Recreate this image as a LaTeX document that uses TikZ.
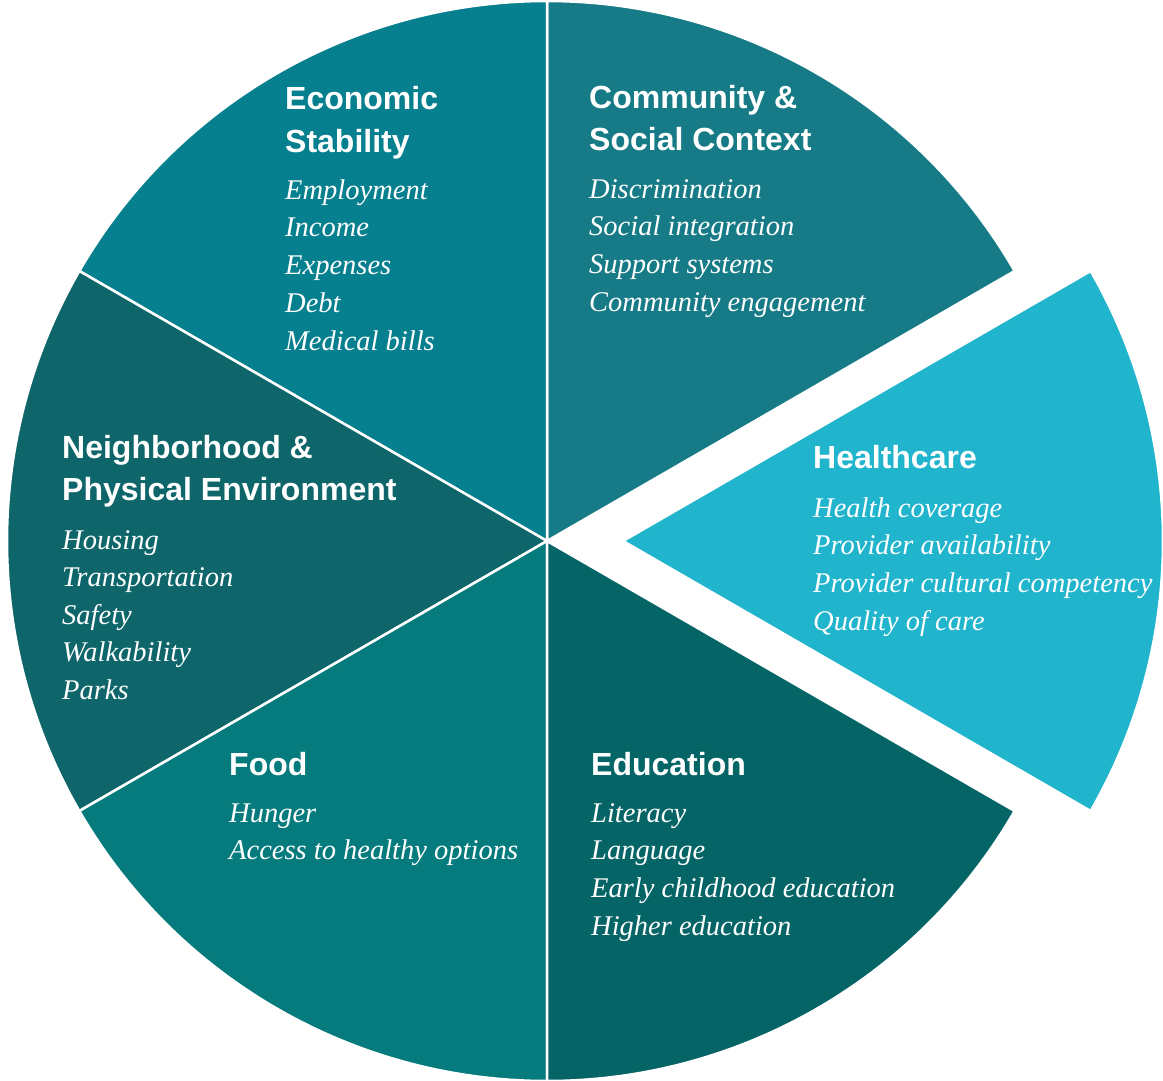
\documentclass[tikz,border=0pt]{standalone}
\usepackage{fontspec}
\setmainfont{Liberation Serif}
\newfontfamily\headfont{Liberation Sans}
\usepackage{tikz}

\definecolor{econcol}{HTML}{06808E}
\definecolor{commcol}{HTML}{167B86}
\definecolor{neighcol}{HTML}{0E666B}
\definecolor{foodcol}{HTML}{067B7E}
\definecolor{educol}{HTML}{056466}
\definecolor{healthcol}{HTML}{21B4CD}

\tikzset{
  slice/.style={draw=white,line width=2.5pt,line join=miter},
  head/.style={anchor=base west,inner sep=0pt,text=white,
    font=\headfont\bfseries\fontsize{32}{38}\selectfont},
  item/.style={anchor=base west,inner sep=0pt,text=white,
    font=\itshape\fontsize{28.5}{36}\selectfont}
}

\begin{document}
\begin{tikzpicture}[x=1pt,y=-1pt]
\useasboundingbox (0,0) rectangle (1163,1081);
\coordinate (c) at (547,541);
\coordinate (hc) at (623,541);
% the six slices
\path[slice,fill=commcol] (c) -- ++(-30:540) arc[start angle=-30,end angle=-90,radius=540] -- cycle;
\path[slice,fill=econcol] (c) -- ++(-90:540) arc[start angle=-90,end angle=-150,radius=540] -- cycle;
\path[slice,fill=neighcol] (c) -- ++(-150:540) arc[start angle=-150,end angle=-210,radius=540] -- cycle;
\path[slice,fill=foodcol] (c) -- ++(-210:540) arc[start angle=-210,end angle=-270,radius=540] -- cycle;
\path[slice,fill=educol] (c) -- ++(30:540) arc[start angle=30,end angle=90,radius=540] -- cycle;
\path[slice,fill=healthcol] (hc) -- ++(-30:540) arc[start angle=-30,end angle=30,radius=540] -- cycle;
% economic stability
\node[head] (econ) at (285,110) {Economic};
\node[head] (econb) at (285,152) {Stability};
\foreach \t [count=\i from 0] in {Employment,Income,Expenses,Debt,Medical bills}
  \node[item] (econ\i) at (285,199+37.8*\i) {\t};
% community
\node[head] (comm) at (589,108) {Community \&};
\node[head] (commb) at (589,150) {Social Context};
\foreach \t [count=\i from 0] in {Discrimination,Social integration,Support systems,Community engagement}
  \node[item] (comm\i) at (589,198+37.8*\i) {\t};
% neighborhood
\node[head] (neigh) at (62,458) {Neighborhood \&};
\node[head] (neighb) at (62,500) {Physical Environment};
\foreach \t [count=\i from 0] in {Housing,Transportation,Safety,Walkability,Parks}
  \node[item] (neigh\i) at (62,549+37.6*\i) {\t};
% healthcare
\node[head] (health) at (813,468) {Healthcare};
\foreach \t [count=\i from 0] in {Health coverage,Provider availability,Provider cultural competency,Quality of care}
  \node[item] (health\i) at (813,517+37.7*\i) {\t};
% food
\node[head] (food) at (229,775) {Food};
\foreach \t [count=\i from 0] in {Hunger,Access to healthy options}
  \node[item] (food\i) at (229,822+37*\i) {\t};
% education
\node[head] (edu) at (591,775) {Education};
\foreach \t [count=\i from 0] in {Literacy,Language,Early childhood education,Higher education}
  \node[item] (edu\i) at (591,822+37.7*\i) {\t};
\end{tikzpicture}
\end{document}
